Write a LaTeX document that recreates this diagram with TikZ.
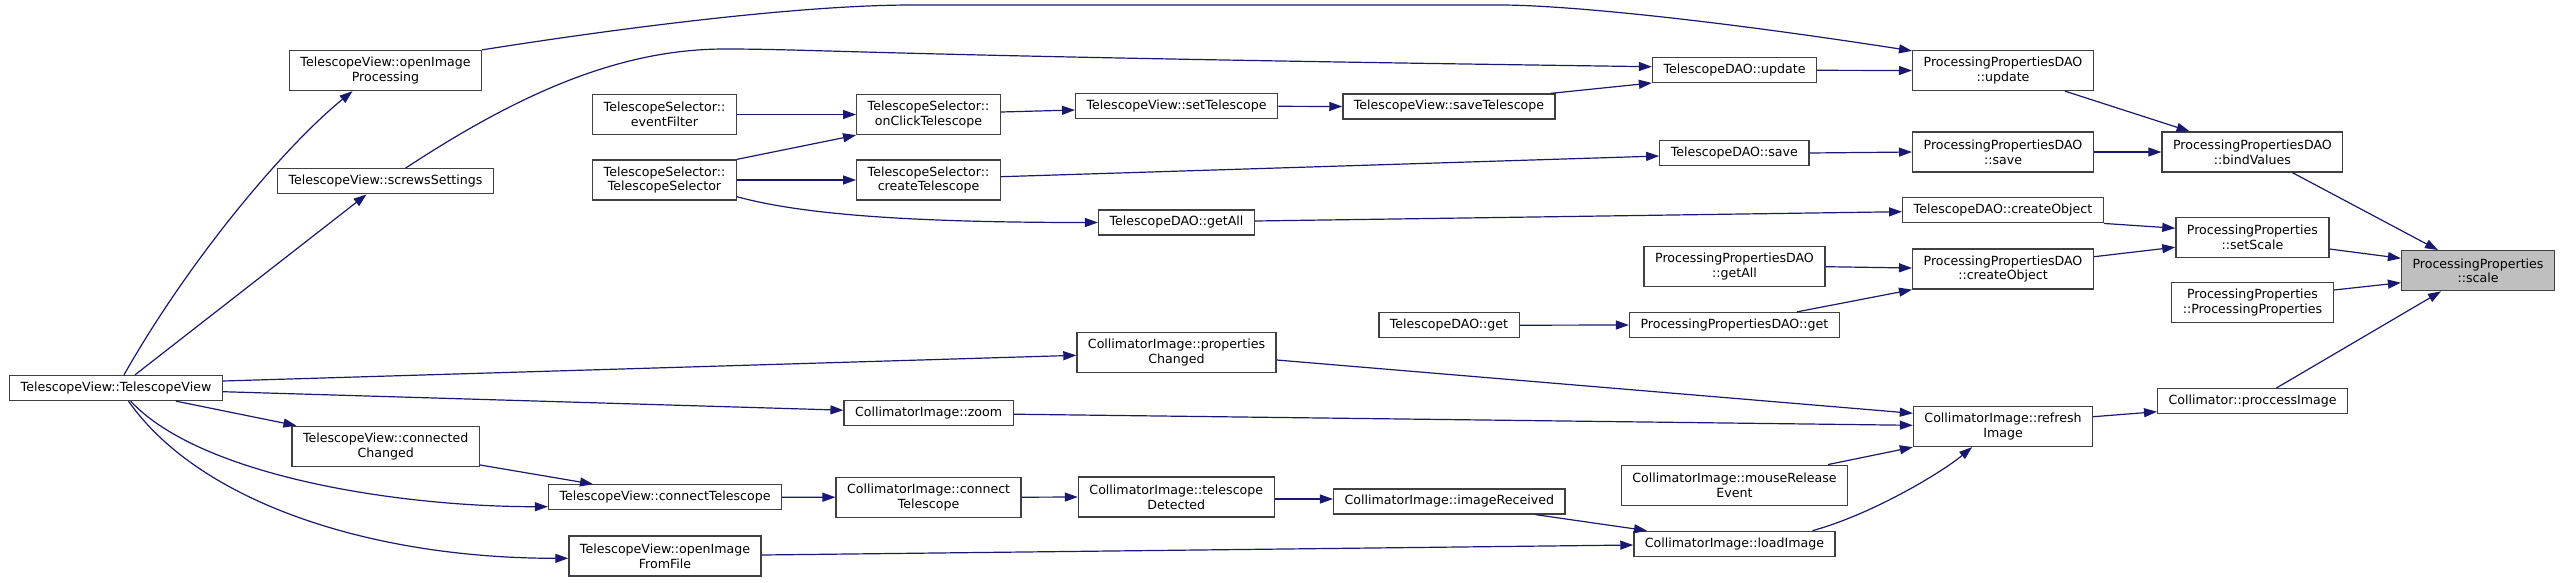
\documentclass[tikz,border=0pt]{standalone}
\usepackage{fontspec}
\setmainfont{DejaVu Sans}
\usetikzlibrary{arrows.meta}
\definecolor{edgeblue}{HTML}{191970}
\definecolor{boxline}{HTML}{404040}
\definecolor{focusgray}{HTML}{BFBFBF}
\tikzstyle{fnbox} = [rectangle, draw=boxline, line width=1.3pt, fill=white, minimum height=25pt, inner xsep=11pt, inner ysep=2pt, align=center, font=\fontsize{12.6}{14.7}\selectfont]
\tikzstyle{fnboxtwo} = [fnbox, minimum height=40pt]
\tikzstyle{focusbox} = [fnboxtwo, fill=focusgray]
\tikzstyle{callarrow} = [draw=edgeblue, line width=1.2pt, -{Triangle[length=13pt,width=9pt]}]

\begin{document}
\begin{tikzpicture}[x=1pt,y=1pt]
\path[fill=white,use as bounding box] (0,0) rectangle (2563,-582);

% Nodes
\node (tvTV) [fnbox] at (116,-388) {TelescopeView::TelescopeView}; % left end
\node (tvOpenProc) [fnboxtwo] at (385.5,-70.5) {TelescopeView::openImage\\Processing};
\node (tvScrews) [fnbox] at (385.5,-181.3) {TelescopeView::screwsSettings};
\node (tvConnChanged) [fnboxtwo] at (385.7,-446.3) {TelescopeView::connected\\Changed};
\node (tvConnTel) [fnbox] at (665,-497.3) {TelescopeView::connectTelescope};
\node (tvOpenFile) [fnboxtwo] at (665,-556) {TelescopeView::openImage\\FromFile};
\node (tsEvent) [fnboxtwo] at (664.5,-114.5) {TelescopeSelector::\\eventFilter};
\node (tsCtor) [fnboxtwo] at (664.5,-180) {TelescopeSelector::\\TelescopeSelector};
\node (tsOnClick) [fnboxtwo] at (928.5,-114.5) {TelescopeSelector::\\onClickTelescope};
\node (tsCreate) [fnboxtwo] at (928.5,-180) {TelescopeSelector::\\createTelescope};
\node (ciZoom) [fnbox] at (928.6,-413.2) {CollimatorImage::zoom};
\node (ciConnTel) [fnboxtwo] at (928.6,-497.2) {CollimatorImage::connect\\Telescope};
\node (tvSetTel) [fnbox] at (1176.6,-106.3) {TelescopeView::setTelescope};
\node (tdGetAll) [fnbox] at (1176.5,-222.5) {TelescopeDAO::getAll};
\node (ciPropChanged) [fnboxtwo] at (1176.5,-352.8) {CollimatorImage::properties\\Changed};
\node (ciTelDetected) [fnboxtwo] at (1176.3,-497) {CollimatorImage::telescope\\Detected};
\node (tvSaveTel) [fnbox] at (1449,-106.5) {TelescopeView::saveTelescope};
\node (tdGet) [fnbox] at (1449,-325.2) {TelescopeDAO::get};
\node (ciImgRecv) [fnbox] at (1449.3,-501.5) {CollimatorImage::imageReceived};
\node (tdUpdate) [fnbox] at (1734.5,-70.3) {TelescopeDAO::update};
\node (tdSave) [fnbox] at (1734.3,-153) {TelescopeDAO::save};
\node (ppdGetAll) [fnboxtwo] at (1734.5,-266.7) {ProcessingPropertiesDAO\\::getAll};
\node (ppdGet) [fnbox] at (1734.4,-325) {ProcessingPropertiesDAO::get};
\node (ciMouse) [fnboxtwo] at (1734.5,-485.2) {CollimatorImage::mouseRelease\\Event};
\node (ciLoad) [fnbox] at (1734.5,-543.8) {CollimatorImage::loadImage};
\node (ppdUpdate) [fnboxtwo] at (2003,-70.5) {ProcessingPropertiesDAO\\::update};
\node (ppdSave) [fnboxtwo] at (2003,-152) {ProcessingPropertiesDAO\\::save};
\node (tdCreateObj) [fnbox] at (2003,-210.3) {TelescopeDAO::createObject};
\node (ppdCreateObj) [fnboxtwo] at (2003,-269) {ProcessingPropertiesDAO\\::createObject};
\node (ciRefresh) [fnboxtwo] at (2003,-426.5) {CollimatorImage::refresh\\Image};
\node (ppdBind) [fnboxtwo] at (2252.4,-152) {ProcessingPropertiesDAO\\::bindValues};
\node (ppSetScale) [fnboxtwo] at (2252.4,-237.2) {ProcessingProperties\\::setScale};
\node (ppCtor) [fnboxtwo] at (2252.5,-302.7) {ProcessingProperties\\::ProcessingProperties};
\node (colProcImg) [fnbox] at (2252.6,-401.2) {Collimator::proccessImage};
\node (ppScale) [focusbox] at (2478,-270.7) {ProcessingProperties\\::scale}; % right end

% Arrows
\draw [callarrow] ([xshift=8pt]tvTV.north) .. controls +(64,113) and +(-70,-57) .. ([xshift=-33pt]tvOpenProc.south);
\draw [callarrow] ([xshift=19pt]tvTV.north) -- ([xshift=-19pt]tvScrews.south);
\draw [callarrow] ([yshift=7pt]tvTV.east) -- ([yshift=-2.5pt]ciPropChanged.west);
\draw [callarrow] ([yshift=-3.7pt]tvTV.east) -- ([yshift=3pt]ciZoom.west);
\draw [callarrow] ([xshift=60pt]tvTV.south) -- ([xshift=5pt]tvConnChanged.north west);
\draw [callarrow] ([xshift=14.6pt]tvTV.south) .. controls +(70,-75) and +(-150,0) .. ([yshift=-9.4pt]tvConnTel.west);
\draw [callarrow] ([xshift=12.5pt]tvTV.south) .. controls +(70,-100) and +(-200,0) .. ([yshift=-2.3pt]tvOpenFile.west);
\draw [callarrow] (tvOpenProc.north east) .. controls (620,-28) and (800,-5) .. (912,-5) -- (1500,-5) .. controls (1560,-5) and (1700,-18) .. ([yshift=-1pt]ppdUpdate.north west);
\draw [callarrow] ([xshift=20pt]tvScrews.north) .. controls (520,-93) and (620,-49) .. (725,-49) .. controls (820,-49) and (880,-56) .. ([yshift=3.6pt]tdUpdate.west);
\draw [callarrow] (tsEvent.east) -- (tsOnClick.west);
\draw [callarrow] (tsCtor.north east) -- (tsOnClick.south west);
\draw [callarrow] (tsCtor.east) -- (tsCreate.west);
\draw [callarrow] ([yshift=-16.7pt]tsCtor.east) .. controls +(62,-17) and +(-195,0) .. (tdGetAll.west);
\draw [callarrow] ([yshift=2.5pt]tsOnClick.east) -- ([yshift=-3.7pt]tvSetTel.west);
\draw [callarrow] (tvSetTel.east) -- (tvSaveTel.west);
\draw [callarrow] ([xshift=-5pt]tvSaveTel.north east) -- ([yshift=0.5pt]tdUpdate.south west);
\draw [callarrow] ([yshift=3.3pt]tsCreate.east) -- ([yshift=-3pt]tdSave.west);
\draw [callarrow] ([yshift=1.5pt]tdGetAll.east) -- ([yshift=-1.4pt]tdCreateObj.west);
\draw [callarrow] (tdUpdate.east) -- (ppdUpdate.west);
\draw [callarrow] (tdSave.east) -- (ppdSave.west);
\draw [callarrow] (ppdGetAll.east) -- ([yshift=1pt]ppdCreateObj.west);
\draw [callarrow] ([xshift=62.6pt]ppdGet.north) -- (ppdCreateObj.south west);
\draw [callarrow] (tdGet.east) -- (ppdGet.west);
\draw [callarrow] ([xshift=62pt]ppdUpdate.south) -- ([xshift=-62.8pt]ppdBind.north);
\draw [callarrow] (ppdSave.east) -- (ppdBind.west);
\draw [callarrow] ([xshift=40pt]ppdBind.south) -- ([xshift=-40pt]ppScale.north);
\draw [callarrow] (tdCreateObj.south east) -- ([yshift=9pt]ppSetScale.west);
\draw [callarrow] ([yshift=12.3pt]ppdCreateObj.east) -- ([yshift=-10pt]ppSetScale.west);
\draw [callarrow] ([yshift=-11.8pt]ppSetScale.east) -- ([yshift=12.4pt]ppScale.west);
\draw [callarrow] ([yshift=12.7pt]ppCtor.east) -- ([yshift=-12pt]ppScale.west);
\draw [callarrow] ([xshift=23.7pt]colProcImg.north) -- ([xshift=-37pt]ppScale.south);
\draw [callarrow] ([yshift=9.8pt]ciRefresh.east) -- ([yshift=-10.5pt]colProcImg.west);
\draw [callarrow] ([yshift=-7.2pt]ciPropChanged.east) -- ([yshift=13.2pt]ciRefresh.west);
\draw [callarrow] ([yshift=-1pt]ciZoom.east) -- ([yshift=1.2pt]ciRefresh.west);
\draw [callarrow] ([xshift=93.5pt]ciMouse.north) -- (ciRefresh.south west);
\draw [callarrow] ([xshift=78pt]ciLoad.north) .. controls +(57.5,15.7) and +(-32,-26.7) .. ([xshift=-31pt]ciRefresh.south);
\draw [callarrow] ([yshift=2pt]tvConnChanged.south east) -- ([xshift=-72pt]tvConnTel.north);
\draw [callarrow] (tvConnTel.east) -- (ciConnTel.west);
\draw [callarrow] (ciConnTel.east) -- (ciTelDetected.west);
\draw [callarrow] ([yshift=-2pt]ciTelDetected.east) -- ([yshift=2.5pt]ciImgRecv.west);
\draw [callarrow] ([xshift=86.4pt]ciImgRecv.south) -- ([xshift=-87.5pt]ciLoad.north);
\draw [callarrow] ([yshift=1pt]tvOpenFile.east) -- ([yshift=-1.2pt]ciLoad.west);

\end{tikzpicture}
\end{document}
